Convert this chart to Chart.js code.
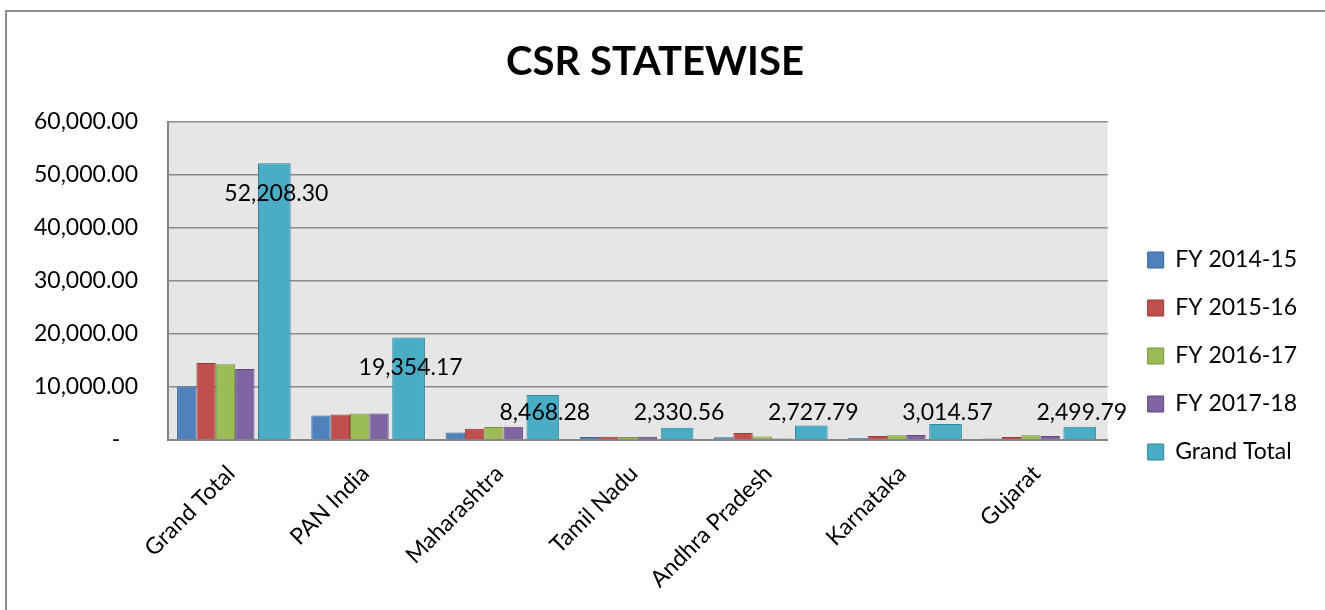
<!DOCTYPE html>
<html>
<head>
<meta charset="utf-8">
<title>CSR Statewise</title>
<script src="https://cdn.jsdelivr.net/npm/chart.js@4.4.0/dist/chart.umd.min.js"></script>
<style>
  html, body { margin: 0; padding: 0; background: #fff; overflow: hidden; }
  #page { position: relative; width: 1325px; height: 610px; overflow: hidden; }
  #frame { position: absolute; left: 5px; top: 10px; right: -40px; bottom: -40px;
           border-top: 2px solid #8c8c8c; border-left: 2px solid #8c8c8c; }
  #wrap { position: absolute; left: 0; top: 0; width: 1325px; height: 610px; }
</style>
</head>
<body>
<div id="page">
  <div id="frame"></div>
  <div id="wrap"><canvas id="csrChart"></canvas></div>
</div>
<script>
// Gasto CSR por estado (INR crore)
const states = ['Grand Total', 'PAN India', 'Maharashtra', 'Tamil Nadu', 'Andhra Pradesh', 'Karnataka', 'Gujarat'];
const fy1415 = [10100, 4600, 1400, 550, 500, 400, 300];
const fy1516 = [14550, 4800, 2100, 600, 1300, 750, 550];
const fy1617 = [14300, 5000, 2450, 580, 650, 900, 900];
const fy1718 = [13400, 5000, 2500, 600, 300, 950, 750];
const grandTotal = [52208.30, 19354.17, 8468.28, 2330.56, 2727.79, 3014.57, 2499.79];
const yMax = 60000;
const yStep = 10000;

const FONT = 'Lato';
Chart.defaults.font.family = FONT;
Chart.defaults.color = '#000';

const fmt = v => v.toLocaleString('en-US', { minimumFractionDigits: 2, maximumFractionDigits: 2 });

// fondo gris del área de trazado
const plotBg = {
  id: 'plotBg',
  beforeDraw(chart) {
    const { ctx, chartArea: a } = chart;
    ctx.save();
    ctx.fillStyle = '#e6e6e6';
    ctx.fillRect(a.left, a.top, a.width, a.height);
    ctx.restore();
  }
};

// etiquetas de valor sobre la serie Grand Total
const totalLabels = {
  id: 'totalLabels',
  afterDatasetsDraw(chart) {
    const { ctx } = chart;
    const meta = chart.getDatasetMeta(4);
    ctx.save();
    ctx.font = '23px ' + FONT;
    ctx.fillStyle = '#000';
    ctx.textAlign = 'center';
    ctx.textBaseline = 'middle';
    meta.data.forEach((bar, i) => {
      const y = Math.min(bar.y + 30, bar.base - 27);
      ctx.fillText(fmt(grandTotal[i]), bar.x + 2, y);
    });
    ctx.restore();
  }
};

// más aire entre el gráfico y la leyenda, y leyenda algo más abajo
const LEGEND_GAP = 18;
const LEGEND_SHIFT = 15;
const LEGEND_DROP = 51;
const legendPlacement = {
  id: 'legendPlacement',
  beforeLayout(chart) {
    const legend = chart.legend;
    if (!legend || legend._gapPatched) return;
    const fit = legend.fit;
    legend.fit = function () {
      fit.call(this);
      this.width += LEGEND_GAP;
    };
    legend._gapPatched = true;
  },
  afterLayout(chart) {
    const legend = chart.legend;
    legend.left += LEGEND_SHIFT;
    legend.top += LEGEND_DROP;
    legend.bottom += LEGEND_DROP;
  }
};

const fyBar = { categoryPercentage: 0.865, barPercentage: 1, borderWidth: 1 };

const ctx = document.getElementById('csrChart').getContext('2d');
const csrChart = new Chart(ctx, {
  type: 'bar',
  data: {
    labels: states,
    datasets: [
      { label: 'FY 2014-15', data: fy1415, backgroundColor: '#4f81bd', borderColor: '#3a6598', ...fyBar },
      { label: 'FY 2015-16', data: fy1516, backgroundColor: '#c0504d', borderColor: '#963c3a', ...fyBar },
      { label: 'FY 2016-17', data: fy1617, backgroundColor: '#9bbb59', borderColor: '#76923c', ...fyBar },
      { label: 'FY 2017-18', data: fy1718, backgroundColor: '#8064a2', borderColor: '#5f497a', ...fyBar },
      { label: 'Grand Total', data: grandTotal, backgroundColor: '#4bacc6', borderColor: '#31849b',
        categoryPercentage: 1.169, barPercentage: 1.25, borderWidth: 1 },
      // hueco vacío a la derecha de cada grupo
      { label: '', data: [], ...fyBar }
    ]
  },
  options: {
    responsive: true,
    maintainAspectRatio: false,
    animation: false,
    layout: { padding: { left: 0, right: 15, top: 0, bottom: 0 } },
    plugins: {
      title: {
        display: true,
        text: 'CSR STATEWISE',
        color: '#000',
        font: { size: 40, weight: 'bold' },
        padding: { top: 38, bottom: 36 }
      },
      legend: {
        position: 'right',
        labels: {
          boxWidth: 16,
          boxHeight: 16,
          padding: 25,
          color: '#000',
          font: { size: 23 },
          filter: item => item.text !== ''
        }
      },
      tooltip: { enabled: false }
    },
    scales: {
      x: {
        grid: { display: false },
        border: { color: '#868686', width: 2 },
        ticks: { minRotation: 45, maxRotation: 45, padding: 12, labelOffset: -4, color: '#000', font: { size: 23 } },
        afterFit(s) { s.height = 170; }
      },
      y: {
        min: 0,
        max: yMax,
        ticks: {
          stepSize: yStep,
          padding: 30,
          color: '#000',
          font: { size: 23 },
          callback: v => (v === 0 ? '-   ' : fmt(v))
        },
        grid: { color: '#8a8a8a', lineWidth: 1.5, drawTicks: false },
        border: { color: '#868686', width: 2 },
        afterFit(s) { s.width = 168; }
      }
    }
  },
  plugins: [plotBg, totalLabels, legendPlacement]
});
</script>
</body>
</html>
